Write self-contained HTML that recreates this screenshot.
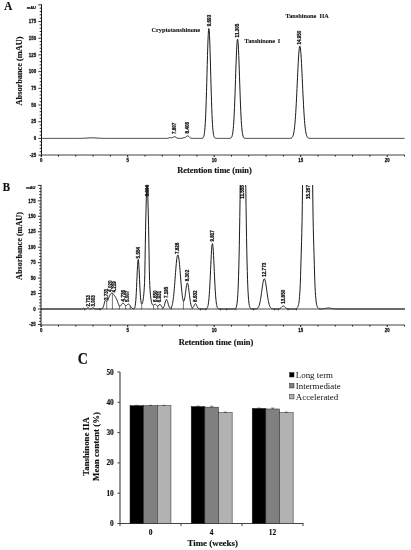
<!DOCTYPE html>
<html><head><meta charset="utf-8"><title>Figure</title>
<style>
html,body{margin:0;padding:0;background:#fff;}
svg{display:block;}
.sb{font-family:"Liberation Serif",serif;font-weight:bold;fill:#111;stroke:#111;stroke-width:0.15;}
.sbs{font-family:"Liberation Serif",serif;font-weight:bold;fill:#111;stroke:#111;stroke-width:0.08;}
.sr{font-family:"Liberation Serif",serif;fill:#111;}
.ab{font-family:"Liberation Sans",sans-serif;font-weight:bold;fill:#111;stroke:#111;stroke-width:0.25;}
</style></head><body>
<svg width="411" height="550" viewBox="0 0 411 550">
<rect width="411" height="550" fill="#fff"/>
<text class="sb" transform="translate(4.3,10.3) scale(1,1.2)" font-size="11.1">A</text>
<line x1="41.5" y1="4.40" x2="41.5" y2="156.8" stroke="#1a1a1a" stroke-width="1"/>
<path d="M38.40,155.10H41.5 M39.70,151.76H41.5 M39.70,148.42H41.5 M39.70,145.08H41.5 M39.70,141.74H41.5 M38.40,138.40H41.5 M39.70,135.06H41.5 M39.70,131.72H41.5 M39.70,128.38H41.5 M39.70,125.04H41.5 M38.40,121.70H41.5 M39.70,118.36H41.5 M39.70,115.02H41.5 M39.70,111.68H41.5 M39.70,108.34H41.5 M38.40,105.00H41.5 M39.70,101.66H41.5 M39.70,98.32H41.5 M39.70,94.98H41.5 M39.70,91.64H41.5 M38.40,88.30H41.5 M39.70,84.96H41.5 M39.70,81.62H41.5 M39.70,78.28H41.5 M39.70,74.94H41.5 M38.40,71.60H41.5 M39.70,68.26H41.5 M39.70,64.92H41.5 M39.70,61.58H41.5 M39.70,58.24H41.5 M38.40,54.90H41.5 M39.70,51.56H41.5 M39.70,48.22H41.5 M39.70,44.88H41.5 M39.70,41.54H41.5 M38.40,38.20H41.5 M39.70,34.86H41.5 M39.70,31.52H41.5 M39.70,28.18H41.5 M39.70,24.84H41.5 M38.40,21.50H41.5 M39.70,18.16H41.5 M39.70,14.82H41.5 M39.70,11.48H41.5 M39.70,8.14H41.5 M38.40,4.80H41.5 " stroke="#1a1a1a" stroke-width="0.9" fill="none"/>
<text class="ab" transform="translate(36.10,156.80) scale(0.96,1)" font-size="4.6" text-anchor="end">-25</text>
<text class="ab" transform="translate(36.10,140.10) scale(0.96,1)" font-size="4.6" text-anchor="end">0</text>
<text class="ab" transform="translate(36.10,123.40) scale(0.96,1)" font-size="4.6" text-anchor="end">25</text>
<text class="ab" transform="translate(36.10,106.70) scale(0.96,1)" font-size="4.6" text-anchor="end">50</text>
<text class="ab" transform="translate(36.10,90.00) scale(0.96,1)" font-size="4.6" text-anchor="end">75</text>
<text class="ab" transform="translate(36.10,73.30) scale(0.96,1)" font-size="4.6" text-anchor="end">100</text>
<text class="ab" transform="translate(36.10,56.60) scale(0.96,1)" font-size="4.6" text-anchor="end">125</text>
<text class="ab" transform="translate(36.10,39.90) scale(0.96,1)" font-size="4.6" text-anchor="end">150</text>
<text class="ab" transform="translate(36.10,23.20) scale(0.96,1)" font-size="4.6" text-anchor="end">175</text>
<text class="ab" transform="translate(35.90,9.00) scale(0.97,1)" font-size="4.1" text-anchor="end">mAU</text>
<line x1="41.5" y1="155.0" x2="404.5" y2="155.0" stroke="#444" stroke-width="1"/>
<path d="M41.20,155.0v2.0 M58.50,155.0v1.5 M75.80,155.0v1.5 M93.10,155.0v1.5 M110.40,155.0v1.5 M127.70,155.0v2.0 M145.00,155.0v1.5 M162.30,155.0v1.5 M179.60,155.0v1.5 M196.90,155.0v1.5 M214.20,155.0v2.0 M231.50,155.0v1.5 M248.80,155.0v1.5 M266.10,155.0v1.5 M283.40,155.0v1.5 M300.70,155.0v2.0 M318.00,155.0v1.5 M335.30,155.0v1.5 M352.60,155.0v1.5 M369.90,155.0v1.5 M387.20,155.0v2.0 M404.50,155.0v1.5 " stroke="#1a1a1a" stroke-width="1" fill="none"/>
<text class="ab" transform="translate(41.20,162.00) scale(0.95,1)" font-size="4.6" text-anchor="middle">0</text>
<text class="ab" transform="translate(127.70,162.00) scale(0.95,1)" font-size="4.6" text-anchor="middle">5</text>
<text class="ab" transform="translate(214.20,162.00) scale(0.95,1)" font-size="4.6" text-anchor="middle">10</text>
<text class="ab" transform="translate(300.70,162.00) scale(0.95,1)" font-size="4.6" text-anchor="middle">15</text>
<text class="ab" transform="translate(387.20,162.00) scale(0.95,1)" font-size="4.6" text-anchor="middle">20</text>
<text class="sb" font-size="8.3" text-anchor="middle" transform="translate(22.2,71) rotate(-90)">Absorbance (mAU)</text>
<text class="sb" font-size="8.4" text-anchor="middle" x="214.5" y="172.7">Retention time (min)</text>
<path d="M41.50,138.40 L41.75,138.40 L42.00,138.40 L42.25,138.40 L42.50,138.40 L42.75,138.40 L43.00,138.40 L43.25,138.40 L43.50,138.40 L43.75,138.40 L44.00,138.40 L44.25,138.40 L44.50,138.40 L44.75,138.40 L45.00,138.40 L45.25,138.40 L45.50,138.40 L45.75,138.40 L46.00,138.40 L46.25,138.40 L46.50,138.40 L46.75,138.40 L47.00,138.40 L47.25,138.40 L47.50,138.40 L47.75,138.40 L48.00,138.40 L48.25,138.40 L48.50,138.40 L48.75,138.40 L49.00,138.40 L49.25,138.40 L49.50,138.40 L49.75,138.40 L50.00,138.40 L50.25,138.40 L50.50,138.40 L50.75,138.40 L51.00,138.40 L51.25,138.40 L51.50,138.40 L51.75,138.40 L52.00,138.40 L52.25,138.40 L52.50,138.40 L52.75,138.40 L53.00,138.40 L53.25,138.40 L53.50,138.40 L53.75,138.40 L54.00,138.40 L54.25,138.40 L54.50,138.40 L54.75,138.40 L55.00,138.40 L55.25,138.40 L55.50,138.40 L55.75,138.40 L56.00,138.40 L56.25,138.40 L56.50,138.40 L56.75,138.40 L57.00,138.40 L57.25,138.40 L57.50,138.40 L57.75,138.40 L58.00,138.40 L58.25,138.40 L58.50,138.40 L58.75,138.40 L59.00,138.40 L59.25,138.40 L59.50,138.40 L59.75,138.40 L60.00,138.40 L60.25,138.40 L60.50,138.40 L60.75,138.40 L61.00,138.40 L61.25,138.40 L61.50,138.40 L61.75,138.40 L62.00,138.40 L62.25,138.40 L62.50,138.40 L62.75,138.40 L63.00,138.40 L63.25,138.40 L63.50,138.40 L63.75,138.40 L64.00,138.40 L64.25,138.40 L64.50,138.40 L64.75,138.40 L65.00,138.40 L65.25,138.40 L65.50,138.40 L65.75,138.40 L66.00,138.40 L66.25,138.40 L66.50,138.40 L66.75,138.40 L67.00,138.40 L67.25,138.40 L67.50,138.40 L67.75,138.40 L68.00,138.40 L68.25,138.40 L68.50,138.40 L68.75,138.40 L69.00,138.40 L69.25,138.40 L69.50,138.40 L69.75,138.40 L70.00,138.40 L70.25,138.40 L70.50,138.40 L70.75,138.40 L71.00,138.40 L71.25,138.40 L71.50,138.40 L71.75,138.40 L72.00,138.40 L72.25,138.40 L72.50,138.40 L72.75,138.40 L73.00,138.40 L73.25,138.40 L73.50,138.40 L73.75,138.40 L74.00,138.40 L74.25,138.40 L74.50,138.40 L74.75,138.40 L75.00,138.40 L75.25,138.40 L75.50,138.40 L75.75,138.40 L76.00,138.40 L76.25,138.40 L76.50,138.40 L76.75,138.39 L77.00,138.39 L77.25,138.39 L77.50,138.39 L77.75,138.39 L78.00,138.39 L78.25,138.39 L78.50,138.38 L78.75,138.38 L79.00,138.38 L79.25,138.38 L79.50,138.37 L79.75,138.37 L80.00,138.37 L80.25,138.36 L80.50,138.36 L80.75,138.35 L81.00,138.35 L81.25,138.34 L81.50,138.33 L81.75,138.33 L82.00,138.32 L82.25,138.31 L82.50,138.30 L82.75,138.29 L83.00,138.28 L83.25,138.27 L83.50,138.26 L83.75,138.25 L84.00,138.23 L84.25,138.22 L84.50,138.21 L84.75,138.19 L85.00,138.17 L85.25,138.16 L85.50,138.14 L85.75,138.13 L86.00,138.11 L86.25,138.09 L86.50,138.07 L86.75,138.05 L87.00,138.04 L87.25,138.02 L87.50,138.00 L87.75,137.98 L88.00,137.96 L88.25,137.95 L88.50,137.93 L88.75,137.91 L89.00,137.90 L89.25,137.88 L89.50,137.87 L89.75,137.86 L90.00,137.85 L90.25,137.84 L90.50,137.83 L90.75,137.82 L91.00,137.81 L91.25,137.81 L91.50,137.80 L91.75,137.80 L92.00,137.80 L92.25,137.80 L92.50,137.80 L92.75,137.81 L93.00,137.81 L93.25,137.82 L93.50,137.83 L93.75,137.84 L94.00,137.85 L94.25,137.86 L94.50,137.87 L94.75,137.88 L95.00,137.90 L95.25,137.91 L95.50,137.93 L95.75,137.95 L96.00,137.96 L96.25,137.98 L96.50,138.00 L96.75,138.02 L97.00,138.04 L97.25,138.05 L97.50,138.07 L97.75,138.09 L98.00,138.11 L98.25,138.13 L98.50,138.14 L98.75,138.16 L99.00,138.17 L99.25,138.19 L99.50,138.21 L99.75,138.22 L100.00,138.23 L100.25,138.25 L100.50,138.26 L100.75,138.27 L101.00,138.28 L101.25,138.29 L101.50,138.30 L101.75,138.31 L102.00,138.32 L102.25,138.33 L102.50,138.33 L102.75,138.34 L103.00,138.35 L103.25,138.35 L103.50,138.36 L103.75,138.36 L104.00,138.37 L104.25,138.37 L104.50,138.37 L104.75,138.38 L105.00,138.38 L105.25,138.38 L105.50,138.38 L105.75,138.39 L106.00,138.39 L106.25,138.39 L106.50,138.39 L106.75,138.39 L107.00,138.39 L107.25,138.39 L107.50,138.40 L107.75,138.40 L108.00,138.40 L108.25,138.40 L108.50,138.40 L108.75,138.40 L109.00,138.40 L109.25,138.40 L109.50,138.40 L109.75,138.40 L110.00,138.40 L110.25,138.40 L110.50,138.40 L110.75,138.40 L111.00,138.40 L111.25,138.40 L111.50,138.40 L111.75,138.40 L112.00,138.40 L112.25,138.40 L112.50,138.40 L112.75,138.40 L113.00,138.40 L113.25,138.40 L113.50,138.40 L113.75,138.40 L114.00,138.40 L114.25,138.40 L114.50,138.40 L114.75,138.40 L115.00,138.40 L115.25,138.40 L115.50,138.40 L115.75,138.40 L116.00,138.40 L116.25,138.40 L116.50,138.40 L116.75,138.40 L117.00,138.40 L117.25,138.40 L117.50,138.40 L117.75,138.40 L118.00,138.40 L118.25,138.40 L118.50,138.40 L118.75,138.40 L119.00,138.40 L119.25,138.40 L119.50,138.40 L119.75,138.40 L120.00,138.40 L120.25,138.40 L120.50,138.40 L120.75,138.40 L121.00,138.40 L121.25,138.40 L121.50,138.40 L121.75,138.40 L122.00,138.40 L122.25,138.40 L122.50,138.40 L122.75,138.40 L123.00,138.40 L123.25,138.40 L123.50,138.40 L123.75,138.40 L124.00,138.40 L124.25,138.40 L124.50,138.40 L124.75,138.40 L125.00,138.40 L125.25,138.40 L125.50,138.40 L125.75,138.40 L126.00,138.40 L126.25,138.40 L126.50,138.40 L126.75,138.40 L127.00,138.40 L127.25,138.40 L127.50,138.40 L127.75,138.40 L128.00,138.40 L128.25,138.40 L128.50,138.40 L128.75,138.40 L129.00,138.40 L129.25,138.40 L129.50,138.40 L129.75,138.40 L130.00,138.40 L130.25,138.40 L130.50,138.40 L130.75,138.40 L131.00,138.40 L131.25,138.40 L131.50,138.40 L131.75,138.40 L132.00,138.40 L132.25,138.40 L132.50,138.40 L132.75,138.40 L133.00,138.40 L133.25,138.40 L133.50,138.40 L133.75,138.40 L134.00,138.40 L134.25,138.40 L134.50,138.40 L134.75,138.40 L135.00,138.40 L135.25,138.40 L135.50,138.40 L135.75,138.40 L136.00,138.40 L136.25,138.40 L136.50,138.40 L136.75,138.40 L137.00,138.40 L137.25,138.40 L137.50,138.40 L137.75,138.40 L138.00,138.40 L138.25,138.40 L138.50,138.40 L138.75,138.40 L139.00,138.40 L139.25,138.40 L139.50,138.40 L139.75,138.40 L140.00,138.40 L140.25,138.40 L140.50,138.40 L140.75,138.40 L141.00,138.40 L141.25,138.40 L141.50,138.40 L141.75,138.40 L142.00,138.40 L142.25,138.40 L142.50,138.40 L142.75,138.40 L143.00,138.40 L143.25,138.40 L143.50,138.40 L143.75,138.40 L144.00,138.40 L144.25,138.40 L144.50,138.40 L144.75,138.40 L145.00,138.40 L145.25,138.40 L145.50,138.40 L145.75,138.40 L146.00,138.40 L146.25,138.40 L146.50,138.40 L146.75,138.40 L147.00,138.40 L147.25,138.40 L147.50,138.40 L147.75,138.40 L148.00,138.40 L148.25,138.40 L148.50,138.40 L148.75,138.40 L149.00,138.40 L149.25,138.40 L149.50,138.40 L149.75,138.40 L150.00,138.40 L150.25,138.40 L150.50,138.40 L150.75,138.40 L151.00,138.40 L151.25,138.40 L151.50,138.40 L151.75,138.40 L152.00,138.40 L152.25,138.40 L152.50,138.40 L152.75,138.40 L153.00,138.40 L153.25,138.40 L153.50,138.40 L153.75,138.40 L154.00,138.40 L154.25,138.40 L154.50,138.40 L154.75,138.40 L155.00,138.40 L155.25,138.40 L155.50,138.40 L155.75,138.40 L156.00,138.40 L156.25,138.40 L156.50,138.40 L156.75,138.40 L157.00,138.40 L157.25,138.40 L157.50,138.40 L157.75,138.40 L158.00,138.40 L158.25,138.40 L158.50,138.40 L158.75,138.40 L159.00,138.40 L159.25,138.40 L159.50,138.40 L159.75,138.40 L160.00,138.40 L160.25,138.40 L160.50,138.40 L160.75,138.40 L161.00,138.40 L161.25,138.40 L161.50,138.40 L161.75,138.40 L162.00,138.40 L162.25,138.40 L162.50,138.40 L162.75,138.40 L163.00,138.40 L163.25,138.40 L163.50,138.40 L163.75,138.40 L164.00,138.40 L164.25,138.40 L164.50,138.40 L164.75,138.40 L165.00,138.40 L165.25,138.40 L165.50,138.40 L165.75,138.40 L166.00,138.40 L166.25,138.39 L166.50,138.39 L166.75,138.38 L167.00,138.36 L167.25,138.34 L167.50,138.31 L167.75,138.26 L168.00,138.20 L168.25,138.12 L168.50,138.03 L168.75,137.93 L169.00,137.83 L169.25,137.74 L169.50,137.66 L169.75,137.61 L170.00,137.58 L170.25,137.59 L170.50,137.62 L170.75,137.67 L171.00,137.72 L171.25,137.77 L171.50,137.80 L171.75,137.81 L172.00,137.78 L172.25,137.71 L172.50,137.61 L172.75,137.48 L173.00,137.33 L173.25,137.18 L173.50,137.03 L173.75,136.89 L174.00,136.79 L174.25,136.72 L174.50,136.70 L174.75,136.72 L175.00,136.79 L175.25,136.90 L175.50,137.04 L175.75,137.20 L176.00,137.37 L176.25,137.54 L176.50,137.70 L176.75,137.85 L177.00,137.98 L177.25,138.08 L177.50,138.17 L177.75,138.24 L178.00,138.29 L178.25,138.33 L178.50,138.35 L178.75,138.37 L179.00,138.38 L179.25,138.39 L179.50,138.39 L179.75,138.40 L180.00,138.40 L180.25,138.39 L180.50,138.39 L180.75,138.38 L181.00,138.37 L181.25,138.36 L181.50,138.33 L181.75,138.30 L182.00,138.25 L182.25,138.19 L182.50,138.12 L182.75,138.04 L183.00,137.96 L183.25,137.88 L183.50,137.80 L183.75,137.73 L184.00,137.68 L184.25,137.64 L184.50,137.59 L184.75,137.54 L185.00,137.48 L185.25,137.39 L185.50,137.27 L185.75,137.12 L186.00,136.94 L186.25,136.73 L186.50,136.52 L186.75,136.31 L187.00,136.13 L187.25,135.99 L187.50,135.91 L187.75,135.90 L188.00,135.95 L188.25,136.06 L188.50,136.23 L188.75,136.44 L189.00,136.68 L189.25,136.93 L189.50,137.18 L189.75,137.42 L190.00,137.63 L190.25,137.81 L190.50,137.96 L190.75,138.08 L191.00,138.18 L191.25,138.25 L191.50,138.30 L191.75,138.33 L192.00,138.36 L192.25,138.37 L192.50,138.39 L192.75,138.39 L193.00,138.40 L193.25,138.40 L193.50,138.40 L193.75,138.40 L194.00,138.40 L194.25,138.40 L194.50,138.40 L194.75,138.40 L195.00,138.40 L195.25,138.40 L195.50,138.40 L195.75,138.40 L196.00,138.40 L196.25,138.40 L196.50,138.40 L196.75,138.40 L197.00,138.40 L197.25,138.40 L197.50,138.40 L197.75,138.40 L198.00,138.40 L198.25,138.40 L198.50,138.40 L198.75,138.40 L199.00,138.40 L199.25,138.40 L199.50,138.40 L199.75,138.40 L200.00,138.40 L200.25,138.40 L200.50,138.40 L200.75,138.40 L201.00,138.39 L201.25,138.39 L201.50,138.37 L201.75,138.35 L202.00,138.32 L202.25,138.27 L202.50,138.18 L202.75,138.05 L203.00,137.84 L203.25,137.53 L203.50,137.07 L203.75,136.41 L204.00,135.48 L204.25,134.20 L204.50,132.47 L204.75,130.18 L205.00,127.23 L205.25,123.51 L205.50,118.94 L205.75,113.44 L206.00,106.99 L206.25,99.64 L206.50,91.49 L206.75,82.70 L207.00,73.53 L207.25,64.30 L207.50,55.37 L207.75,47.14 L208.00,40.01 L208.25,34.34 L208.50,30.46 L208.75,28.57 L209.00,28.78 L209.25,31.08 L209.50,35.34 L209.75,41.33 L210.00,48.71 L210.25,57.11 L210.50,66.13 L210.75,75.38 L211.00,84.50 L211.25,93.18 L211.50,101.18 L211.75,108.36 L212.00,114.61 L212.25,119.92 L212.50,124.32 L212.75,127.88 L213.00,130.69 L213.25,132.86 L213.50,134.49 L213.75,135.69 L214.00,136.56 L214.25,137.18 L214.50,137.60 L214.75,137.89 L215.00,138.08 L215.25,138.20 L215.50,138.28 L215.75,138.33 L216.00,138.36 L216.25,138.38 L216.50,138.39 L216.75,138.39 L217.00,138.40 L217.25,138.40 L217.50,138.40 L217.75,138.40 L218.00,138.40 L218.25,138.40 L218.50,138.40 L218.75,138.40 L219.00,138.40 L219.25,138.40 L219.50,138.40 L219.75,138.40 L220.00,138.40 L220.25,138.40 L220.50,138.40 L220.75,138.40 L221.00,138.40 L221.25,138.40 L221.50,138.40 L221.75,138.40 L222.00,138.40 L222.25,138.40 L222.50,138.40 L222.75,138.40 L223.00,138.40 L223.25,138.40 L223.50,138.40 L223.75,138.40 L224.00,138.40 L224.25,138.40 L224.50,138.40 L224.75,138.40 L225.00,138.40 L225.25,138.40 L225.50,138.40 L225.75,138.40 L226.00,138.40 L226.25,138.40 L226.50,138.40 L226.75,138.40 L227.00,138.40 L227.25,138.40 L227.50,138.40 L227.75,138.40 L228.00,138.40 L228.25,138.40 L228.50,138.40 L228.75,138.39 L229.00,138.39 L229.25,138.38 L229.50,138.37 L229.75,138.35 L230.00,138.32 L230.25,138.27 L230.50,138.20 L230.75,138.09 L231.00,137.93 L231.25,137.70 L231.50,137.38 L231.75,136.92 L232.00,136.29 L232.25,135.43 L232.50,134.30 L232.75,132.83 L233.00,130.93 L233.25,128.56 L233.50,125.62 L233.75,122.07 L234.00,117.85 L234.25,112.95 L234.50,107.36 L234.75,101.13 L235.00,94.35 L235.25,87.14 L235.50,79.68 L235.75,72.17 L236.00,64.86 L236.25,58.01 L236.50,51.88 L236.75,46.73 L237.00,42.78 L237.25,40.21 L237.50,39.13 L237.75,39.60 L238.00,41.58 L238.25,45.00 L238.50,49.69 L238.75,55.46 L239.00,62.05 L239.25,69.21 L239.50,76.67 L239.75,84.17 L240.00,91.51 L240.25,98.48 L240.50,104.94 L240.75,110.79 L241.00,115.97 L241.25,120.46 L241.50,124.28 L241.75,127.45 L242.00,130.05 L242.25,132.12 L242.50,133.76 L242.75,135.02 L243.00,135.98 L243.25,136.69 L243.50,137.21 L243.75,137.59 L244.00,137.85 L244.25,138.04 L244.50,138.16 L244.75,138.25 L245.00,138.30 L245.25,138.34 L245.50,138.36 L245.75,138.38 L246.00,138.39 L246.25,138.39 L246.50,138.40 L246.75,138.40 L247.00,138.40 L247.25,138.40 L247.50,138.40 L247.75,138.40 L248.00,138.40 L248.25,138.40 L248.50,138.40 L248.75,138.40 L249.00,138.40 L249.25,138.40 L249.50,138.40 L249.75,138.40 L250.00,138.40 L250.25,138.40 L250.50,138.40 L250.75,138.40 L251.00,138.40 L251.25,138.40 L251.50,138.40 L251.75,138.40 L252.00,138.40 L252.25,138.40 L252.50,138.40 L252.75,138.40 L253.00,138.40 L253.25,138.40 L253.50,138.40 L253.75,138.40 L254.00,138.40 L254.25,138.40 L254.50,138.40 L254.75,138.40 L255.00,138.40 L255.25,138.40 L255.50,138.40 L255.75,138.40 L256.00,138.40 L256.25,138.40 L256.50,138.40 L256.75,138.40 L257.00,138.40 L257.25,138.40 L257.50,138.40 L257.75,138.40 L258.00,138.40 L258.25,138.40 L258.50,138.40 L258.75,138.40 L259.00,138.40 L259.25,138.40 L259.50,138.40 L259.75,138.40 L260.00,138.40 L260.25,138.40 L260.50,138.40 L260.75,138.40 L261.00,138.40 L261.25,138.40 L261.50,138.40 L261.75,138.40 L262.00,138.40 L262.25,138.40 L262.50,138.40 L262.75,138.40 L263.00,138.40 L263.25,138.40 L263.50,138.40 L263.75,138.40 L264.00,138.40 L264.25,138.40 L264.50,138.40 L264.75,138.40 L265.00,138.40 L265.25,138.40 L265.50,138.40 L265.75,138.40 L266.00,138.40 L266.25,138.40 L266.50,138.40 L266.75,138.40 L267.00,138.40 L267.25,138.40 L267.50,138.40 L267.75,138.40 L268.00,138.40 L268.25,138.40 L268.50,138.40 L268.75,138.40 L269.00,138.40 L269.25,138.40 L269.50,138.40 L269.75,138.40 L270.00,138.40 L270.25,138.40 L270.50,138.40 L270.75,138.40 L271.00,138.40 L271.25,138.40 L271.50,138.40 L271.75,138.40 L272.00,138.40 L272.25,138.40 L272.50,138.40 L272.75,138.40 L273.00,138.40 L273.25,138.40 L273.50,138.40 L273.75,138.40 L274.00,138.40 L274.25,138.40 L274.50,138.40 L274.75,138.40 L275.00,138.40 L275.25,138.40 L275.50,138.40 L275.75,138.40 L276.00,138.40 L276.25,138.40 L276.50,138.40 L276.75,138.40 L277.00,138.40 L277.25,138.40 L277.50,138.40 L277.75,138.40 L278.00,138.40 L278.25,138.40 L278.50,138.40 L278.75,138.40 L279.00,138.40 L279.25,138.40 L279.50,138.40 L279.75,138.40 L280.00,138.40 L280.25,138.40 L280.50,138.40 L280.75,138.40 L281.00,138.40 L281.25,138.40 L281.50,138.40 L281.75,138.40 L282.00,138.40 L282.25,138.40 L282.50,138.40 L282.75,138.40 L283.00,138.40 L283.25,138.40 L283.50,138.40 L283.75,138.40 L284.00,138.40 L284.25,138.40 L284.50,138.40 L284.75,138.40 L285.00,138.40 L285.25,138.40 L285.50,138.40 L285.75,138.40 L286.00,138.40 L286.25,138.40 L286.50,138.40 L286.75,138.40 L287.00,138.40 L287.25,138.40 L287.50,138.40 L287.75,138.40 L288.00,138.40 L288.25,138.40 L288.50,138.39 L288.75,138.39 L289.00,138.39 L289.25,138.38 L289.50,138.37 L289.75,138.36 L290.00,138.34 L290.25,138.31 L290.50,138.28 L290.75,138.23 L291.00,138.15 L291.25,138.06 L291.50,137.93 L291.75,137.76 L292.00,137.53 L292.25,137.24 L292.50,136.85 L292.75,136.37 L293.00,135.75 L293.25,134.99 L293.50,134.04 L293.75,132.88 L294.00,131.48 L294.25,129.81 L294.50,127.83 L294.75,125.52 L295.00,122.85 L295.25,119.80 L295.50,116.37 L295.75,112.54 L296.00,108.35 L296.25,103.80 L296.50,98.93 L296.75,93.81 L297.00,88.49 L297.25,83.07 L297.50,77.64 L297.75,72.30 L298.00,67.17 L298.25,62.36 L298.50,57.99 L298.75,54.18 L299.00,51.01 L299.25,48.58 L299.50,46.95 L299.75,46.17 L300.00,46.26 L300.25,47.21 L300.50,49.01 L300.75,51.59 L301.00,54.89 L301.25,58.83 L301.50,63.29 L301.75,68.17 L302.00,73.35 L302.25,78.72 L302.50,84.16 L302.75,89.57 L303.00,94.85 L303.25,99.93 L303.50,104.73 L303.75,109.22 L304.00,113.34 L304.25,117.08 L304.50,120.44 L304.75,123.41 L305.00,126.01 L305.25,128.25 L305.50,130.16 L305.75,131.78 L306.00,133.13 L306.25,134.24 L306.50,135.15 L306.75,135.89 L307.00,136.47 L307.25,136.94 L307.50,137.30 L307.75,137.58 L308.00,137.80 L308.25,137.96 L308.50,138.08 L308.75,138.17 L309.00,138.24 L309.25,138.29 L309.50,138.32 L309.75,138.34 L310.00,138.36 L310.25,138.37 L310.50,138.38 L310.75,138.39 L311.00,138.39 L311.25,138.40 L311.50,138.40 L311.75,138.40 L312.00,138.40 L312.25,138.40 L312.50,138.40 L312.75,138.40 L313.00,138.40 L313.25,138.40 L313.50,138.40 L313.75,138.40 L314.00,138.40 L314.25,138.40 L314.50,138.40 L314.75,138.40 L315.00,138.40 L315.25,138.40 L315.50,138.40 L315.75,138.40 L316.00,138.40 L316.25,138.40 L316.50,138.40 L316.75,138.40 L317.00,138.40 L317.25,138.40 L317.50,138.40 L317.75,138.40 L318.00,138.40 L318.25,138.40 L318.50,138.40 L318.75,138.40 L319.00,138.40 L319.25,138.40 L319.50,138.40 L319.75,138.40 L320.00,138.40 L320.25,138.40 L320.50,138.40 L320.75,138.40 L321.00,138.40 L321.25,138.40 L321.50,138.40 L321.75,138.40 L322.00,138.40 L322.25,138.40 L322.50,138.40 L322.75,138.40 L323.00,138.40 L323.25,138.40 L323.50,138.40 L323.75,138.40 L324.00,138.40 L324.25,138.40 L324.50,138.40 L324.75,138.40 L325.00,138.40 L325.25,138.40 L325.50,138.40 L325.75,138.40 L326.00,138.40 L326.25,138.40 L326.50,138.40 L326.75,138.40 L327.00,138.40 L327.25,138.40 L327.50,138.40 L327.75,138.40 L328.00,138.40 L328.25,138.40 L328.50,138.40 L328.75,138.40 L329.00,138.40 L329.25,138.40 L329.50,138.40 L329.75,138.40 L330.00,138.40 L330.25,138.40 L330.50,138.40 L330.75,138.40 L331.00,138.40 L331.25,138.40 L331.50,138.40 L331.75,138.40 L332.00,138.40 L332.25,138.40 L332.50,138.40 L332.75,138.40 L333.00,138.40 L333.25,138.40 L333.50,138.40 L333.75,138.40 L334.00,138.40 L334.25,138.40 L334.50,138.40 L334.75,138.40 L335.00,138.40 L335.25,138.40 L335.50,138.40 L335.75,138.40 L336.00,138.40 L336.25,138.40 L336.50,138.40 L336.75,138.40 L337.00,138.40 L337.25,138.40 L337.50,138.40 L337.75,138.40 L338.00,138.40 L338.25,138.40 L338.50,138.40 L338.75,138.40 L339.00,138.40 L339.25,138.40 L339.50,138.40 L339.75,138.40 L340.00,138.40 L340.25,138.40 L340.50,138.40 L340.75,138.40 L341.00,138.40 L341.25,138.40 L341.50,138.40 L341.75,138.40 L342.00,138.40 L342.25,138.40 L342.50,138.40 L342.75,138.40 L343.00,138.40 L343.25,138.40 L343.50,138.40 L343.75,138.40 L344.00,138.40 L344.25,138.40 L344.50,138.40 L344.75,138.40 L345.00,138.40 L345.25,138.40 L345.50,138.40 L345.75,138.40 L346.00,138.40 L346.25,138.40 L346.50,138.40 L346.75,138.40 L347.00,138.40 L347.25,138.40 L347.50,138.40 L347.75,138.40 L348.00,138.40 L348.25,138.40 L348.50,138.40 L348.75,138.40 L349.00,138.40 L349.25,138.40 L349.50,138.40 L349.75,138.40 L350.00,138.40 L350.25,138.40 L350.50,138.40 L350.75,138.40 L351.00,138.40 L351.25,138.40 L351.50,138.40 L351.75,138.40 L352.00,138.40 L352.25,138.40 L352.50,138.40 L352.75,138.40 L353.00,138.40 L353.25,138.40 L353.50,138.40 L353.75,138.40 L354.00,138.40 L354.25,138.40 L354.50,138.40 L354.75,138.40 L355.00,138.40 L355.25,138.40 L355.50,138.40 L355.75,138.40 L356.00,138.40 L356.25,138.40 L356.50,138.40 L356.75,138.40 L357.00,138.40 L357.25,138.40 L357.50,138.40 L357.75,138.40 L358.00,138.40 L358.25,138.40 L358.50,138.40 L358.75,138.40 L359.00,138.40 L359.25,138.40 L359.50,138.40 L359.75,138.40 L360.00,138.40 L360.25,138.40 L360.50,138.40 L360.75,138.40 L361.00,138.40 L361.25,138.40 L361.50,138.40 L361.75,138.40 L362.00,138.40 L362.25,138.40 L362.50,138.40 L362.75,138.40 L363.00,138.40 L363.25,138.40 L363.50,138.40 L363.75,138.40 L364.00,138.40 L364.25,138.40 L364.50,138.40 L364.75,138.40 L365.00,138.40 L365.25,138.40 L365.50,138.40 L365.75,138.40 L366.00,138.40 L366.25,138.40 L366.50,138.40 L366.75,138.40 L367.00,138.40 L367.25,138.40 L367.50,138.40 L367.75,138.40 L368.00,138.40 L368.25,138.40 L368.50,138.40 L368.75,138.40 L369.00,138.40 L369.25,138.40 L369.50,138.40 L369.75,138.40 L370.00,138.40 L370.25,138.40 L370.50,138.40 L370.75,138.40 L371.00,138.40 L371.25,138.40 L371.50,138.40 L371.75,138.40 L372.00,138.40 L372.25,138.40 L372.50,138.40 L372.75,138.40 L373.00,138.40 L373.25,138.40 L373.50,138.40 L373.75,138.40 L374.00,138.40 L374.25,138.40 L374.50,138.40 L374.75,138.40 L375.00,138.40 L375.25,138.40 L375.50,138.40 L375.75,138.40 L376.00,138.40 L376.25,138.40 L376.50,138.40 L376.75,138.40 L377.00,138.40 L377.25,138.40 L377.50,138.40 L377.75,138.40 L378.00,138.40 L378.25,138.40 L378.50,138.40 L378.75,138.40 L379.00,138.40 L379.25,138.40 L379.50,138.40 L379.75,138.40 L380.00,138.40 L380.25,138.40 L380.50,138.40 L380.75,138.40 L381.00,138.40 L381.25,138.40 L381.50,138.40 L381.75,138.40 L382.00,138.40 L382.25,138.40 L382.50,138.40 L382.75,138.40 L383.00,138.40 L383.25,138.40 L383.50,138.40 L383.75,138.40 L384.00,138.40 L384.25,138.40 L384.50,138.40 L384.75,138.40 L385.00,138.40 L385.25,138.40 L385.50,138.40 L385.75,138.40 L386.00,138.40 L386.25,138.40 L386.50,138.40 L386.75,138.40 L387.00,138.40 L387.25,138.40 L387.50,138.40 L387.75,138.40 L388.00,138.40 L388.25,138.40 L388.50,138.40 L388.75,138.40 L389.00,138.40 L389.25,138.40 L389.50,138.40 L389.75,138.40 L390.00,138.40 L390.25,138.40 L390.50,138.40 L390.75,138.40 L391.00,138.40 L391.25,138.40 L391.50,138.40 L391.75,138.40 L392.00,138.40 L392.25,138.40 L392.50,138.40 L392.75,138.40 L393.00,138.40 L393.25,138.40 L393.50,138.40 L393.75,138.40 L394.00,138.40 L394.25,138.40 L394.50,138.40 L394.75,138.40 L395.00,138.40 L395.25,138.40 L395.50,138.40 L395.75,138.40 L396.00,138.40 L396.25,138.40 L396.50,138.40 L396.75,138.40 L397.00,138.40 L397.25,138.40 L397.50,138.40 L397.75,138.40 L398.00,138.40 L398.25,138.40 L398.50,138.40 L398.75,138.40 L399.00,138.40 L399.25,138.40 L399.50,138.40 L399.75,138.40 L400.00,138.40 L400.25,138.40 L400.50,138.40 L400.75,138.40 L401.00,138.40 L401.25,138.40 L401.50,138.40 L401.75,138.40 L402.00,138.40 L402.25,138.40 L402.50,138.40 L402.75,138.40 L403.00,138.40 L403.25,138.40 L403.50,138.40 L403.75,138.40 L404.00,138.40 L404.25,138.40 L404.50,138.40 " fill="none" stroke="#1a1a1a" stroke-width="1"/>
<text class="ab" font-size="4.55" transform="translate(210.82,26.2) rotate(-90) scale(1.0,1)">9.693</text>
<text class="ab" font-size="4.55" transform="translate(239.32,37.4) rotate(-90) scale(1.0,1)">11.305</text>
<text class="ab" font-size="4.55" transform="translate(301.42,44.6) rotate(-90) scale(1.0,1)">14.950</text>
<text class="ab" font-size="4.55" transform="translate(175.92,134.1) rotate(-90) scale(1.0,1)">7.807</text>
<text class="ab" font-size="4.55" transform="translate(189.32,133.4) rotate(-90) scale(1.0,1)">8.406</text>
<text class="sbs" font-size="6.3" x="151.5" y="31.9">Cryptotanshinone</text>
<text class="sbs" font-size="6.2" x="244.6" y="42.8" word-spacing="1.2">Tanshinone I</text>
<text class="sbs" font-size="6.25" x="285.6" y="18.3" word-spacing="1.6">Tanshinone IIA</text>
<text class="sb" transform="translate(2.7,191) scale(1,1.24)" font-size="10.9">B</text>
<line x1="41.0" y1="185.00" x2="41.0" y2="326.8" stroke="#1a1a1a" stroke-width="1"/>
<path d="M37.90,324.45H41.0 M39.20,321.36H41.0 M39.20,318.27H41.0 M39.20,315.18H41.0 M39.20,312.09H41.0 M37.90,309.00H41.0 M39.20,305.91H41.0 M39.20,302.82H41.0 M39.20,299.73H41.0 M39.20,296.64H41.0 M37.90,293.55H41.0 M39.20,290.46H41.0 M39.20,287.37H41.0 M39.20,284.28H41.0 M39.20,281.19H41.0 M37.90,278.10H41.0 M39.20,275.01H41.0 M39.20,271.92H41.0 M39.20,268.83H41.0 M39.20,265.74H41.0 M37.90,262.65H41.0 M39.20,259.56H41.0 M39.20,256.47H41.0 M39.20,253.38H41.0 M39.20,250.29H41.0 M37.90,247.20H41.0 M39.20,244.11H41.0 M39.20,241.02H41.0 M39.20,237.93H41.0 M39.20,234.84H41.0 M37.90,231.75H41.0 M39.20,228.66H41.0 M39.20,225.57H41.0 M39.20,222.48H41.0 M39.20,219.39H41.0 M37.90,216.30H41.0 M39.20,213.21H41.0 M39.20,210.12H41.0 M39.20,207.03H41.0 M39.20,203.94H41.0 M37.90,200.85H41.0 M39.20,197.76H41.0 M39.20,194.67H41.0 M39.20,191.58H41.0 M39.20,188.49H41.0 M37.90,185.40H41.0 " stroke="#1a1a1a" stroke-width="0.9" fill="none"/>
<text class="ab" transform="translate(35.60,326.15) scale(0.96,1)" font-size="4.6" text-anchor="end">-25</text>
<text class="ab" transform="translate(35.60,310.70) scale(0.96,1)" font-size="4.6" text-anchor="end">0</text>
<text class="ab" transform="translate(35.60,295.25) scale(0.96,1)" font-size="4.6" text-anchor="end">25</text>
<text class="ab" transform="translate(35.60,279.80) scale(0.96,1)" font-size="4.6" text-anchor="end">50</text>
<text class="ab" transform="translate(35.60,264.35) scale(0.96,1)" font-size="4.6" text-anchor="end">75</text>
<text class="ab" transform="translate(35.60,248.90) scale(0.96,1)" font-size="4.6" text-anchor="end">100</text>
<text class="ab" transform="translate(35.60,233.45) scale(0.96,1)" font-size="4.6" text-anchor="end">125</text>
<text class="ab" transform="translate(35.60,218.00) scale(0.96,1)" font-size="4.6" text-anchor="end">150</text>
<text class="ab" transform="translate(35.60,202.55) scale(0.96,1)" font-size="4.6" text-anchor="end">175</text>
<text class="ab" transform="translate(35.40,189.30) scale(0.97,1)" font-size="4.1" text-anchor="end">mAU</text>
<line x1="41.0" y1="325.0" x2="404.5" y2="325.0" stroke="#444" stroke-width="1"/>
<path d="M41.20,325.0v2.0 M58.50,325.0v1.5 M75.80,325.0v1.5 M93.10,325.0v1.5 M110.40,325.0v1.5 M127.70,325.0v2.0 M145.00,325.0v1.5 M162.30,325.0v1.5 M179.60,325.0v1.5 M196.90,325.0v1.5 M214.20,325.0v2.0 M231.50,325.0v1.5 M248.80,325.0v1.5 M266.10,325.0v1.5 M283.40,325.0v1.5 M300.70,325.0v2.0 M318.00,325.0v1.5 M335.30,325.0v1.5 M352.60,325.0v1.5 M369.90,325.0v1.5 M387.20,325.0v2.0 M404.50,325.0v1.5 " stroke="#1a1a1a" stroke-width="1" fill="none"/>
<text class="ab" transform="translate(41.20,332.00) scale(0.95,1)" font-size="4.6" text-anchor="middle">0</text>
<text class="ab" transform="translate(127.70,332.00) scale(0.95,1)" font-size="4.6" text-anchor="middle">5</text>
<text class="ab" transform="translate(214.20,332.00) scale(0.95,1)" font-size="4.6" text-anchor="middle">10</text>
<text class="ab" transform="translate(300.70,332.00) scale(0.95,1)" font-size="4.6" text-anchor="middle">15</text>
<text class="ab" transform="translate(387.20,332.00) scale(0.95,1)" font-size="4.6" text-anchor="middle">20</text>
<text class="sb" font-size="8.2" text-anchor="middle" transform="translate(22.2,246) rotate(-90)">Absorbance (mAU)</text>
<text class="sb" font-size="8.4" text-anchor="middle" x="216" y="344.8">Retention time (min)</text>
<clipPath id="cb"><rect x="40" y="185" width="370" height="130"/></clipPath>
<path d="M40.80,309.00 L41.05,309.00 L41.30,309.00 L41.55,309.00 L41.80,309.00 L42.05,309.00 L42.30,309.00 L42.55,309.00 L42.80,309.00 L43.05,309.00 L43.30,309.00 L43.55,309.00 L43.80,309.00 L44.05,309.00 L44.30,309.00 L44.55,309.00 L44.80,309.00 L45.05,309.00 L45.30,309.00 L45.55,309.00 L45.80,309.00 L46.05,309.00 L46.30,309.00 L46.55,309.00 L46.80,309.00 L47.05,309.00 L47.30,309.00 L47.55,309.00 L47.80,309.00 L48.05,309.00 L48.30,309.00 L48.55,309.00 L48.80,309.00 L49.05,309.00 L49.30,309.00 L49.55,309.00 L49.80,309.00 L50.05,309.00 L50.30,309.00 L50.55,309.00 L50.80,309.00 L51.05,309.00 L51.30,309.00 L51.55,309.00 L51.80,309.00 L52.05,309.00 L52.30,309.00 L52.55,309.00 L52.80,309.00 L53.05,309.00 L53.30,309.00 L53.55,309.00 L53.80,309.00 L54.05,309.00 L54.30,309.00 L54.55,309.00 L54.80,309.00 L55.05,309.00 L55.30,309.00 L55.55,309.00 L55.80,309.00 L56.05,309.00 L56.30,309.00 L56.55,309.00 L56.80,309.00 L57.05,309.00 L57.30,309.00 L57.55,309.00 L57.80,309.00 L58.05,309.00 L58.30,309.00 L58.55,309.00 L58.80,309.00 L59.05,309.00 L59.30,309.00 L59.55,309.00 L59.80,309.00 L60.05,309.00 L60.30,309.00 L60.55,309.00 L60.80,309.00 L61.05,309.00 L61.30,309.00 L61.55,309.00 L61.80,309.00 L62.05,309.00 L62.30,309.00 L62.55,309.00 L62.80,309.00 L63.05,309.00 L63.30,309.00 L63.55,309.00 L63.80,309.00 L64.05,309.00 L64.30,309.00 L64.55,309.00 L64.80,309.00 L65.05,309.00 L65.30,309.00 L65.55,309.00 L65.80,309.00 L66.05,309.00 L66.30,309.00 L66.55,309.00 L66.80,309.00 L67.05,309.00 L67.30,309.00 L67.55,309.00 L67.80,309.00 L68.05,309.00 L68.30,309.00 L68.55,309.00 L68.80,309.00 L69.05,309.00 L69.30,309.00 L69.55,309.00 L69.80,309.00 L70.05,309.00 L70.30,309.00 L70.55,309.00 L70.80,309.00 L71.05,309.00 L71.30,309.00 L71.55,309.00 L71.80,309.00 L72.05,309.00 L72.30,309.00 L72.55,309.00 L72.80,309.00 L73.05,309.00 L73.30,309.00 L73.55,309.00 L73.80,309.00 L74.05,309.00 L74.30,309.00 L74.55,309.00 L74.80,309.00 L75.05,309.00 L75.30,309.00 L75.55,309.00 L75.80,309.00 L76.05,309.00 L76.30,309.00 L76.55,309.00 L76.80,309.00 L77.05,309.00 L77.30,309.00 L77.55,309.00 L77.80,309.00 L78.05,309.00 L78.30,309.00 L78.55,309.00 L78.80,309.00 L79.05,309.00 L79.30,309.00 L79.55,309.00 L79.80,309.00 L80.05,309.00 L80.30,309.00 L80.55,309.00 L80.80,309.00 L81.05,309.00 L81.30,309.00 L81.55,309.00 L81.80,308.99 L82.05,308.97 L82.30,308.92 L82.55,308.83 L82.80,308.67 L83.05,308.47 L83.30,308.29 L83.55,308.20 L83.80,308.24 L84.05,308.40 L84.30,308.59 L84.55,308.77 L84.80,308.88 L85.05,308.94 L85.30,308.95 L85.55,308.93 L85.80,308.88 L86.05,308.81 L86.30,308.69 L86.55,308.55 L86.80,308.37 L87.05,308.17 L87.30,307.98 L87.55,307.83 L87.80,307.73 L88.05,307.70 L88.30,307.76 L88.55,307.88 L88.80,308.06 L89.05,308.25 L89.30,308.44 L89.55,308.61 L89.80,308.74 L90.05,308.83 L90.30,308.88 L90.55,308.89 L90.80,308.88 L91.05,308.82 L91.30,308.74 L91.55,308.61 L91.80,308.46 L92.05,308.30 L92.30,308.14 L92.55,308.01 L92.80,307.92 L93.05,307.90 L93.30,307.95 L93.55,308.05 L93.80,308.20 L94.05,308.37 L94.30,308.53 L94.55,308.67 L94.80,308.78 L95.05,308.87 L95.30,308.92 L95.55,308.96 L95.80,308.98 L96.05,308.99 L96.30,308.99 L96.55,309.00 L96.80,309.00 L97.05,309.00 L97.30,309.00 L97.55,309.00 L97.80,308.99 L98.05,308.99 L98.30,308.99 L98.55,308.99 L98.80,308.98 L99.05,308.98 L99.30,308.97 L99.55,308.96 L99.80,308.95 L100.05,308.94 L100.30,308.92 L100.55,308.90 L100.80,308.87 L101.05,308.84 L101.30,308.80 L101.55,308.74 L101.80,308.67 L102.05,308.57 L102.30,308.43 L102.55,308.23 L102.80,307.93 L103.05,307.52 L103.30,306.95 L103.55,306.21 L103.80,305.32 L104.05,304.29 L104.30,303.21 L104.55,302.17 L104.80,301.28 L105.05,300.63 L105.30,300.27 L105.55,300.20 L105.80,300.36 L106.05,300.66 L106.30,300.99 L106.55,301.25 L106.80,301.39 L107.05,301.35 L107.30,301.14 L107.55,300.78 L107.80,300.30 L108.05,299.74 L108.30,299.12 L108.55,298.47 L108.80,297.82 L109.05,297.17 L109.30,296.55 L109.55,295.95 L109.80,295.40 L110.05,294.88 L110.30,294.43 L110.55,294.03 L110.80,293.70 L111.05,293.43 L111.30,293.24 L111.55,293.12 L111.80,293.07 L112.05,293.09 L112.30,293.18 L112.55,293.32 L112.80,293.53 L113.05,293.77 L113.30,294.05 L113.55,294.36 L113.80,294.69 L114.05,295.03 L114.30,295.37 L114.55,295.72 L114.80,296.07 L115.05,296.42 L115.30,296.79 L115.55,297.18 L115.80,297.59 L116.05,298.04 L116.30,298.54 L116.55,299.08 L116.80,299.67 L117.05,300.31 L117.30,300.98 L117.55,301.67 L117.80,302.37 L118.05,303.06 L118.30,303.71 L118.55,304.32 L118.80,304.86 L119.05,305.31 L119.30,305.67 L119.55,305.92 L119.80,306.07 L120.05,306.10 L120.30,306.02 L120.55,305.85 L120.80,305.59 L121.05,305.26 L121.30,304.88 L121.55,304.49 L121.80,304.09 L122.05,303.74 L122.30,303.43 L122.55,303.21 L122.80,303.09 L123.05,303.06 L123.30,303.14 L123.55,303.31 L123.80,303.56 L124.05,303.87 L124.30,304.21 L124.55,304.56 L124.80,304.89 L125.05,305.17 L125.30,305.39 L125.55,305.54 L125.80,305.60 L126.05,305.59 L126.30,305.49 L126.55,305.34 L126.80,305.14 L127.05,304.92 L127.30,304.68 L127.55,304.47 L127.80,304.28 L128.05,304.15 L128.30,304.08 L128.55,304.08 L128.80,304.16 L129.05,304.30 L129.30,304.52 L129.55,304.80 L129.80,305.12 L130.05,305.47 L130.30,305.85 L130.55,306.23 L130.80,306.61 L131.05,306.97 L131.30,307.30 L131.55,307.60 L131.80,307.87 L132.05,308.10 L132.30,308.30 L132.55,308.46 L132.80,308.58 L133.05,308.68 L133.30,308.74 L133.55,308.77 L133.80,308.75 L134.05,308.66 L134.30,308.47 L134.55,308.11 L134.80,307.52 L135.05,306.59 L135.30,305.19 L135.55,303.19 L135.80,300.46 L136.05,296.92 L136.30,292.55 L136.55,287.43 L136.80,281.78 L137.05,275.94 L137.30,270.34 L137.55,265.49 L137.80,261.86 L138.05,259.84 L138.30,259.56 L138.55,261.08 L138.80,264.25 L139.05,268.70 L139.30,273.98 L139.55,279.59 L139.80,285.06 L140.05,290.05 L140.30,294.31 L140.55,297.75 L140.80,300.34 L141.05,302.16 L141.30,303.31 L141.55,303.92 L141.80,304.11 L142.05,303.98 L142.30,303.54 L142.55,302.75 L142.80,301.64 L143.05,300.26 L143.30,298.62 L143.55,296.63 L143.80,294.16 L144.05,291.07 L144.30,287.22 L144.55,282.48 L144.80,274.66 L145.05,259.47 L145.30,244.62 L145.55,230.33 L145.80,218.81 L146.05,209.19 L146.30,198.75 L146.55,191.68 L146.80,186.64 L147.05,184.08 L147.30,185.23 L147.55,189.46 L147.80,195.30 L148.05,205.30 L148.30,214.88 L148.55,225.30 L148.80,238.78 L149.05,253.18 L149.30,269.07 L149.55,280.30 L149.80,285.44 L150.05,289.63 L150.30,293.00 L150.55,295.70 L150.80,297.86 L151.05,299.62 L151.30,301.11 L151.55,302.35 L151.80,303.32 L152.05,304.01 L152.30,304.47 L152.55,304.81 L152.80,305.04 L153.05,305.16 L153.30,305.18 L153.55,305.12 L153.80,305.00 L154.05,304.84 L154.30,304.67 L154.55,304.50 L154.80,304.37 L155.05,304.30 L155.30,304.29 L155.55,304.38 L155.80,304.54 L156.05,304.78 L156.30,305.00 L156.55,305.26 L156.80,305.54 L157.05,305.81 L157.30,306.02 L157.55,306.16 L157.80,306.19 L158.05,306.12 L158.30,305.95 L158.55,305.69 L158.80,305.37 L159.05,305.04 L159.30,304.74 L159.55,304.50 L159.80,304.36 L160.05,304.35 L160.30,304.47 L160.55,304.72 L160.80,305.08 L161.05,305.51 L161.30,305.98 L161.55,306.46 L161.80,306.92 L162.05,307.31 L162.30,307.62 L162.55,307.82 L162.80,307.92 L163.05,307.89 L163.30,307.73 L163.55,307.43 L163.80,306.98 L164.05,306.40 L164.30,305.68 L164.55,304.85 L164.80,303.94 L165.05,302.98 L165.30,302.03 L165.55,301.14 L165.80,300.39 L166.05,299.82 L166.30,299.48 L166.55,299.40 L166.80,299.59 L167.05,300.02 L167.30,300.67 L167.55,301.48 L167.80,302.40 L168.05,303.36 L168.30,304.31 L168.55,305.20 L168.80,305.99 L169.05,306.67 L169.30,307.22 L169.55,307.64 L169.80,307.93 L170.05,308.11 L170.30,308.18 L170.55,308.15 L170.80,308.01 L171.05,307.78 L171.30,307.43 L171.55,306.96 L171.80,306.35 L172.05,305.59 L172.30,304.65 L172.55,303.50 L172.80,302.14 L173.05,300.54 L173.30,298.69 L173.55,296.57 L173.80,294.20 L174.05,291.58 L174.30,288.72 L174.55,285.67 L174.80,282.46 L175.05,279.15 L175.30,275.80 L175.55,272.48 L175.80,269.26 L176.05,266.21 L176.30,263.43 L176.55,260.96 L176.80,258.87 L177.05,257.20 L177.30,255.99 L177.55,255.25 L177.80,254.95 L178.05,255.04 L178.30,255.57 L178.55,256.57 L178.80,258.02 L179.05,259.89 L179.30,262.14 L179.55,264.72 L179.80,267.55 L180.05,270.58 L180.30,273.72 L180.55,276.91 L180.80,280.08 L181.05,283.17 L181.30,286.13 L181.55,288.90 L181.80,291.46 L182.05,293.77 L182.30,295.80 L182.55,297.53 L182.80,298.94 L183.05,300.02 L183.30,300.75 L183.55,301.14 L183.80,301.17 L184.05,300.84 L184.30,300.16 L184.55,299.15 L184.80,297.84 L185.05,296.28 L185.30,294.50 L185.55,292.60 L185.80,290.65 L186.05,288.74 L186.30,286.97 L186.55,285.43 L186.80,284.21 L187.05,283.38 L187.30,282.98 L187.55,283.05 L187.80,283.58 L188.05,284.54 L188.30,285.89 L188.55,287.56 L188.80,289.47 L189.05,291.53 L189.30,293.65 L189.55,295.76 L189.80,297.79 L190.05,299.68 L190.30,301.38 L190.55,302.89 L190.80,304.17 L191.05,305.24 L191.30,306.11 L191.55,306.78 L191.80,307.27 L192.05,307.59 L192.30,307.76 L192.55,307.78 L192.80,307.67 L193.05,307.43 L193.30,307.09 L193.55,306.64 L193.80,306.12 L194.05,305.57 L194.30,305.01 L194.55,304.49 L194.80,304.07 L195.05,303.76 L195.30,303.61 L195.55,303.63 L195.80,303.82 L196.05,304.15 L196.30,304.61 L196.55,305.15 L196.80,305.72 L197.05,306.30 L197.30,306.85 L197.55,307.34 L197.80,307.76 L198.05,308.10 L198.30,308.37 L198.55,308.57 L198.80,308.72 L199.05,308.82 L199.30,308.89 L199.55,308.93 L199.80,308.96 L200.05,308.98 L200.30,308.99 L200.55,308.99 L200.80,309.00 L201.05,309.00 L201.30,309.00 L201.55,309.00 L201.80,309.00 L202.05,309.00 L202.30,309.00 L202.55,309.00 L202.80,309.00 L203.05,309.00 L203.30,309.00 L203.55,309.00 L203.80,309.00 L204.05,309.00 L204.30,309.00 L204.55,309.00 L204.80,308.99 L205.05,308.98 L205.30,308.97 L205.55,308.95 L205.80,308.92 L206.05,308.87 L206.30,308.79 L206.55,308.67 L206.80,308.48 L207.05,308.21 L207.30,307.82 L207.55,307.26 L207.80,306.50 L208.05,305.47 L208.30,304.11 L208.55,302.35 L208.80,300.14 L209.05,297.41 L209.30,294.13 L209.55,290.30 L209.80,285.92 L210.05,281.07 L210.30,275.84 L210.55,270.38 L210.80,264.88 L211.05,259.56 L211.30,254.66 L211.55,250.41 L211.80,247.04 L212.05,244.73 L212.30,243.60 L212.55,243.73 L212.80,245.10 L213.05,247.63 L213.30,251.20 L213.55,255.59 L213.80,260.60 L214.05,265.97 L214.30,271.48 L214.55,276.90 L214.80,282.07 L215.05,286.84 L215.30,291.11 L215.55,294.83 L215.80,298.00 L216.05,300.62 L216.30,302.74 L216.55,304.41 L216.80,305.70 L217.05,306.67 L217.30,307.39 L217.55,307.91 L217.80,308.27 L218.05,308.52 L218.30,308.70 L218.55,308.81 L218.80,308.88 L219.05,308.93 L219.30,308.96 L219.55,308.98 L219.80,308.99 L220.05,308.99 L220.30,309.00 L220.55,309.00 L220.80,309.00 L221.05,309.00 L221.30,309.00 L221.55,309.00 L221.80,309.00 L222.05,309.00 L222.30,309.00 L222.55,309.00 L222.80,309.00 L223.05,309.00 L223.30,309.00 L223.55,309.00 L223.80,309.00 L224.05,309.00 L224.30,309.00 L224.55,309.00 L224.80,309.00 L225.05,309.00 L225.30,309.00 L225.55,309.00 L225.80,309.00 L226.05,309.00 L226.30,309.00 L226.55,309.00 L226.80,309.00 L227.05,309.00 L227.30,309.00 L227.55,309.00 L227.80,309.00 L228.05,309.00 L228.30,309.00 L228.55,309.00 L228.80,309.00 L229.05,309.00 L229.30,309.00 L229.55,309.00 L229.80,309.00 L230.05,309.00 L230.30,309.00 L230.55,309.00 L230.80,309.00 L231.05,309.00 L231.30,309.00 L231.55,309.00 L231.80,309.00 L232.05,309.00 L232.30,309.00 L232.55,309.00 L232.80,309.00 L233.05,308.99 L233.30,308.99 L233.55,308.98 L233.80,308.97 L234.05,308.96 L234.30,308.93 L234.55,308.89 L234.80,308.83 L235.05,308.73 L235.30,308.58 L235.55,308.37 L235.80,308.06 L236.05,307.61 L236.30,306.97 L236.55,306.08 L236.80,304.86 L237.05,303.22 L237.30,301.03 L237.55,298.17 L237.80,294.47 L238.05,289.79 L238.30,283.93 L238.55,276.75 L238.80,268.07 L239.05,257.76 L239.30,245.74 L239.55,231.97 L239.80,216.48 L240.05,199.39 L240.30,180.93 L240.55,161.41 L240.80,150.00 L241.05,150.00 L241.30,150.00 L241.55,150.00 L241.80,150.00 L242.05,150.00 L242.30,150.00 L242.55,150.00 L242.80,150.00 L243.05,150.00 L243.30,150.00 L243.55,150.00 L243.80,150.00 L244.05,150.00 L244.30,150.00 L244.55,150.00 L244.80,150.00 L245.05,150.00 L245.30,150.00 L245.55,169.32 L245.80,188.46 L246.05,206.41 L246.30,222.87 L246.55,237.69 L246.80,250.76 L247.05,262.09 L247.30,271.73 L247.55,279.79 L247.80,286.43 L248.05,291.79 L248.30,296.06 L248.55,299.40 L248.80,301.98 L249.05,303.94 L249.30,305.40 L249.55,306.47 L249.80,307.25 L250.05,307.80 L250.30,308.20 L250.55,308.47 L250.80,308.65 L251.05,308.77 L251.30,308.86 L251.55,308.91 L251.80,308.94 L252.05,308.97 L252.30,308.98 L252.55,308.99 L252.80,308.99 L253.05,308.99 L253.30,309.00 L253.55,309.00 L253.80,308.99 L254.05,308.99 L254.30,308.99 L254.55,308.98 L254.80,308.98 L255.05,308.97 L255.30,308.95 L255.55,308.93 L255.80,308.91 L256.05,308.87 L256.30,308.82 L256.55,308.75 L256.80,308.66 L257.05,308.55 L257.30,308.40 L257.55,308.21 L257.80,307.97 L258.05,307.67 L258.30,307.30 L258.55,306.86 L258.80,306.31 L259.05,305.67 L259.30,304.91 L259.55,304.03 L259.80,303.02 L260.05,301.88 L260.30,300.60 L260.55,299.20 L260.80,297.67 L261.05,296.03 L261.30,294.30 L261.55,292.51 L261.80,290.68 L262.05,288.86 L262.30,287.07 L262.55,285.36 L262.80,283.77 L263.05,282.35 L263.30,281.12 L263.55,280.13 L263.80,279.40 L264.05,278.95 L264.30,278.80 L264.55,278.95 L264.80,279.40 L265.05,280.13 L265.30,281.12 L265.55,282.35 L265.80,283.77 L266.05,285.36 L266.30,287.07 L266.55,288.86 L266.80,290.68 L267.05,292.51 L267.30,294.30 L267.55,296.03 L267.80,297.67 L268.05,299.20 L268.30,300.60 L268.55,301.88 L268.80,303.02 L269.05,304.03 L269.30,304.91 L269.55,305.67 L269.80,306.31 L270.05,306.86 L270.30,307.30 L270.55,307.67 L270.80,307.97 L271.05,308.21 L271.30,308.40 L271.55,308.55 L271.80,308.66 L272.05,308.75 L272.30,308.82 L272.55,308.87 L272.80,308.91 L273.05,308.93 L273.30,308.95 L273.55,308.97 L273.80,308.98 L274.05,308.98 L274.30,308.99 L274.55,308.99 L274.80,309.00 L275.05,309.00 L275.30,309.00 L275.55,309.00 L275.80,309.00 L276.05,309.00 L276.30,309.00 L276.55,309.00 L276.80,309.00 L277.05,308.99 L277.30,308.99 L277.55,308.98 L277.80,308.97 L278.05,308.96 L278.30,308.94 L278.55,308.91 L278.80,308.87 L279.05,308.82 L279.30,308.75 L279.55,308.66 L279.80,308.55 L280.05,308.41 L280.30,308.25 L280.55,308.07 L280.80,307.86 L281.05,307.63 L281.30,307.38 L281.55,307.13 L281.80,306.88 L282.05,306.64 L282.30,306.43 L282.55,306.25 L282.80,306.11 L283.05,306.03 L283.30,306.00 L283.55,306.03 L283.80,306.11 L284.05,306.25 L284.30,306.43 L284.55,306.64 L284.80,306.88 L285.05,307.13 L285.30,307.38 L285.55,307.63 L285.80,307.86 L286.05,308.07 L286.30,308.25 L286.55,308.41 L286.80,308.55 L287.05,308.66 L287.30,308.75 L287.55,308.82 L287.80,308.87 L288.05,308.91 L288.30,308.94 L288.55,308.96 L288.80,308.97 L289.05,308.98 L289.30,308.99 L289.55,308.99 L289.80,309.00 L290.05,309.00 L290.30,309.00 L290.55,309.00 L290.80,309.00 L291.05,309.00 L291.30,309.00 L291.55,309.00 L291.80,309.00 L292.05,309.00 L292.30,309.00 L292.55,309.00 L292.80,309.00 L293.05,309.00 L293.30,309.00 L293.55,309.00 L293.80,309.00 L294.05,309.00 L294.30,309.00 L294.55,309.00 L294.80,309.00 L295.05,309.00 L295.30,309.00 L295.55,309.00 L295.80,308.98 L296.05,308.88 L296.30,308.73 L296.55,308.54 L296.80,308.30 L297.05,308.05 L297.30,307.76 L297.55,307.36 L297.80,306.86 L298.05,306.23 L298.30,305.48 L298.55,304.60 L298.80,303.52 L299.05,301.83 L299.30,299.46 L299.55,296.52 L299.80,293.07 L300.05,289.15 L300.30,283.60 L300.55,276.31 L300.80,267.87 L301.05,258.90 L301.30,250.00 L301.55,241.56 L301.80,232.56 L302.05,221.57 L302.30,205.27 L302.55,185.00 L302.80,166.22 L303.05,150.00 L303.30,150.00 L303.55,150.00 L303.80,150.00 L304.05,150.00 L304.30,150.00 L304.55,150.00 L304.80,150.00 L305.05,150.00 L305.30,150.00 L305.55,150.00 L305.80,150.00 L306.05,150.00 L306.30,150.00 L306.55,150.00 L306.80,150.00 L307.05,150.00 L307.30,150.00 L307.55,150.00 L307.80,150.00 L308.05,150.00 L308.30,150.00 L308.55,150.00 L308.80,150.00 L309.05,150.00 L309.30,150.00 L309.55,150.00 L309.80,150.00 L310.05,150.00 L310.30,150.00 L310.55,150.00 L310.80,150.00 L311.05,150.00 L311.30,150.00 L311.55,150.00 L311.80,150.00 L312.05,150.00 L312.30,158.71 L312.55,177.49 L312.80,197.06 L313.05,216.12 L313.30,228.49 L313.55,238.11 L313.80,246.60 L314.05,255.29 L314.30,264.31 L314.55,273.03 L314.80,280.86 L315.05,287.18 L315.30,291.57 L315.55,295.19 L315.80,298.35 L316.05,300.96 L316.30,302.93 L316.55,304.20 L316.80,305.14 L317.05,305.94 L317.30,306.62 L317.55,307.17 L317.80,307.61 L318.05,307.94 L318.30,308.20 L318.55,308.44 L318.80,308.65 L319.05,308.82 L319.30,308.94 L319.55,308.99 L319.80,308.99 L320.05,308.98 L320.30,308.98 L320.55,308.97 L320.80,308.96 L321.05,308.95 L321.30,308.94 L321.55,308.93 L321.80,308.92 L322.05,308.90 L322.30,308.88 L322.55,308.86 L322.80,308.84 L323.05,308.81 L323.30,308.78 L323.55,308.74 L323.80,308.71 L324.05,308.67 L324.30,308.62 L324.55,308.58 L324.80,308.53 L325.05,308.48 L325.30,308.43 L325.55,308.38 L325.80,308.33 L326.05,308.28 L326.30,308.24 L326.55,308.19 L326.80,308.15 L327.05,308.11 L327.30,308.08 L327.55,308.05 L327.80,308.03 L328.05,308.01 L328.30,308.00 L328.55,308.00 L328.80,308.00 L329.05,308.02 L329.30,308.03 L329.55,308.06 L329.80,308.09 L330.05,308.12 L330.30,308.16 L330.55,308.21 L330.80,308.25 L331.05,308.30 L331.30,308.35 L331.55,308.40 L331.80,308.45 L332.05,308.50 L332.30,308.55 L332.55,308.60 L332.80,308.64 L333.05,308.68 L333.30,308.72 L333.55,308.76 L333.80,308.79 L334.05,308.82 L334.30,308.85 L334.55,308.87 L334.80,308.89 L335.05,308.91 L335.30,308.92 L335.55,308.94 L335.80,308.95 L336.05,308.96 L336.30,308.97 L336.55,308.97 L336.80,308.98 L337.05,308.98 L337.30,308.99 L337.55,308.99 L337.80,308.99 L338.05,308.99 L338.30,309.00 L338.55,309.00 L338.80,309.00 L339.05,309.00 L339.30,309.00 L339.55,309.00 L339.80,309.00 L340.05,309.00 L340.30,309.00 L340.55,309.00 L340.80,309.00 L341.05,309.00 L341.30,309.00 L341.55,309.00 L341.80,309.00 L342.05,309.00 L342.30,309.00 L342.55,309.00 L342.80,309.00 L343.05,309.00 L343.30,309.00 L343.55,309.00 L343.80,309.00 L344.05,309.00 L344.30,309.00 L344.55,309.00 L344.80,309.00 L345.05,309.00 L345.30,309.00 L345.55,309.00 L345.80,309.00 L346.05,309.00 L346.30,309.00 L346.55,309.00 L346.80,309.00 L347.05,309.00 L347.30,309.00 L347.55,309.00 L347.80,309.00 L348.05,309.00 L348.30,309.00 L348.55,309.00 L348.80,309.00 L349.05,309.00 L349.30,309.00 L349.55,309.00 L349.80,309.00 L350.05,309.00 L350.30,309.00 L350.55,309.00 L350.80,309.00 L351.05,309.00 L351.30,309.00 L351.55,309.00 L351.80,309.00 L352.05,309.00 L352.30,309.00 L352.55,309.00 L352.80,309.00 L353.05,309.00 L353.30,309.00 L353.55,309.00 L353.80,309.00 L354.05,309.00 L354.30,309.00 L354.55,309.00 L354.80,309.00 L355.05,309.00 L355.30,309.00 L355.55,309.00 L355.80,309.00 L356.05,309.00 L356.30,309.00 L356.55,309.00 L356.80,309.00 L357.05,309.00 L357.30,309.00 L357.55,309.00 L357.80,309.00 L358.05,309.00 L358.30,309.00 L358.55,309.00 L358.80,309.00 L359.05,309.00 L359.30,309.00 L359.55,309.00 L359.80,309.00 L360.05,309.00 L360.30,309.00 L360.55,309.00 L360.80,309.00 L361.05,309.00 L361.30,309.00 L361.55,309.00 L361.80,309.00 L362.05,309.00 L362.30,309.00 L362.55,309.00 L362.80,309.00 L363.05,309.00 L363.30,309.00 L363.55,309.00 L363.80,309.00 L364.05,309.00 L364.30,309.00 L364.55,309.00 L364.80,309.00 L365.05,309.00 L365.30,309.00 L365.55,309.00 L365.80,309.00 L366.05,309.00 L366.30,309.00 L366.55,309.00 L366.80,309.00 L367.05,309.00 L367.30,309.00 L367.55,309.00 L367.80,309.00 L368.05,309.00 L368.30,309.00 L368.55,309.00 L368.80,309.00 L369.05,309.00 L369.30,309.00 L369.55,309.00 L369.80,309.00 L370.05,309.00 L370.30,309.00 L370.55,309.00 L370.80,309.00 L371.05,309.00 L371.30,309.00 L371.55,309.00 L371.80,309.00 L372.05,309.00 L372.30,309.00 L372.55,309.00 L372.80,309.00 L373.05,309.00 L373.30,309.00 L373.55,309.00 L373.80,309.00 L374.05,309.00 L374.30,309.00 L374.55,309.00 L374.80,309.00 L375.05,309.00 L375.30,309.00 L375.55,309.00 L375.80,309.00 L376.05,309.00 L376.30,309.00 L376.55,309.00 L376.80,309.00 L377.05,309.00 L377.30,309.00 L377.55,309.00 L377.80,309.00 L378.05,309.00 L378.30,309.00 L378.55,309.00 L378.80,309.00 L379.05,309.00 L379.30,309.00 L379.55,309.00 L379.80,309.00 L380.05,309.00 L380.30,309.00 L380.55,309.00 L380.80,309.00 L381.05,309.00 L381.30,309.00 L381.55,309.00 L381.80,309.00 L382.05,309.00 L382.30,309.00 L382.55,309.00 L382.80,309.00 L383.05,309.00 L383.30,309.00 L383.55,309.00 L383.80,309.00 L384.05,309.00 L384.30,309.00 L384.55,309.00 L384.80,309.00 L385.05,309.00 L385.30,309.00 L385.55,309.00 L385.80,309.00 L386.05,309.00 L386.30,309.00 L386.55,309.00 L386.80,309.00 L387.05,309.00 L387.30,309.00 L387.55,309.00 L387.80,309.00 L388.05,309.00 L388.30,309.00 L388.55,309.00 L388.80,309.00 L389.05,309.00 L389.30,309.00 L389.55,309.00 L389.80,309.00 L390.05,309.00 L390.30,309.00 L390.55,309.00 L390.80,309.00 L391.05,309.00 L391.30,309.00 L391.55,309.00 L391.80,309.00 L392.05,309.00 L392.30,309.00 L392.55,309.00 L392.80,309.00 L393.05,309.00 L393.30,309.00 L393.55,309.00 L393.80,309.00 L394.05,309.00 L394.30,309.00 L394.55,309.00 L394.80,309.00 L395.05,309.00 L395.30,309.00 L395.55,309.00 L395.80,309.00 L396.05,309.00 L396.30,309.00 L396.55,309.00 L396.80,309.00 L397.05,309.00 L397.30,309.00 L397.55,309.00 L397.80,309.00 L398.05,309.00 L398.30,309.00 L398.55,309.00 L398.80,309.00 L399.05,309.00 L399.30,309.00 L399.55,309.00 L399.80,309.00 L400.05,309.00 L400.30,309.00 L400.55,309.00 L400.80,309.00 L401.05,309.00 L401.30,309.00 L401.55,309.00 L401.80,309.00 L402.05,309.00 L402.30,309.00 L402.55,309.00 L402.80,309.00 L403.05,309.00 L403.30,309.00 L403.55,309.00 L403.80,309.00 L404.05,309.00 L404.30,309.00 L404.55,309.00 L404.80,309.00 " fill="none" stroke="#1a1a1a" stroke-width="1" clip-path="url(#cb)"/>
<path d="M40.8,309.0H405" stroke="#1a1a1a" stroke-width="0.8" fill="none"/>
<path d="M106.7,301.39V309.3 M112.4,293.18V309.3 M119.4,305.67V309.3 M125.6,305.54V309.3 M130.2,305.85V309.3 M141.7,304.11V309.3 M153.6,305.12V309.3 M157.8,306.19V309.3 M162.8,307.92V309.3 M171.5,306.96V309.3 M183.4,300.75V309.3 M192,307.59V309.3 M84.5,308.5v2 M100,308.5v2 M200.6,308.5v2 M206,308.5v2 M220.5,308.5v2 M226.6,308.5v2 M235.9,308.5v2 M253.4,308.5v2 M274.8,308.5v2 M278.5,308.5v2 M288,308.5v2 M296.5,308.5v2 " stroke="#1a1a1a" stroke-width="0.6" fill="none"/>
<text class="ab" font-size="4.55" transform="translate(89.62,306.5) rotate(-90) scale(1.0,1)">2.713</text>
<text class="ab" font-size="4.55" transform="translate(94.72,306.5) rotate(-90) scale(1.0,1)">3.003</text>
<text class="ab" font-size="4.55" transform="translate(107.92,300) rotate(-90) scale(1.0,1)">3.731</text>
<text class="ab" font-size="4.55" transform="translate(112.32,291.9) rotate(-90) scale(1.0,1)">4.020</text>
<text class="ab" font-size="4.55" transform="translate(115.92,292.6) rotate(-90) scale(1.0,1)">4.219</text>
<text class="ab" font-size="4.55" transform="translate(124.62,301.4) rotate(-90) scale(1.0,1)">4.736</text>
<text class="ab" font-size="4.55" transform="translate(129.42,302) rotate(-90) scale(1.0,1)">5.007</text>
<text class="ab" font-size="4.55" transform="translate(139.82,258.4) rotate(-90) scale(1.0,1)">5.554</text>
<text class="ab" font-size="4.55" transform="translate(148.72,196.2) rotate(-90) scale(1.0,1)">6.000</text>
<text class="ab" font-size="4.55" transform="translate(157.12,301.9) rotate(-90) scale(1.0,1)">6.650</text>
<text class="ab" font-size="4.55" transform="translate(161.22,302.3) rotate(-90) scale(1.0,1)">6.931</text>
<text class="ab" font-size="4.55" transform="translate(167.82,298) rotate(-90) scale(1.0,1)">7.195</text>
<text class="ab" font-size="4.55" transform="translate(178.82,254) rotate(-90) scale(1.0,1)">7.828</text>
<text class="ab" font-size="4.55" transform="translate(188.92,281.2) rotate(-90) scale(1.0,1)">8.302</text>
<text class="ab" font-size="4.55" transform="translate(197.02,301.9) rotate(-90) scale(1.0,1)">8.832</text>
<text class="ab" font-size="4.55" transform="translate(214.12,241.5) rotate(-90) scale(1.0,1)">9.817</text>
<text class="ab" font-size="4.55" transform="translate(244.22,198.8) rotate(-90) scale(1.0,1)">11.555</text>
<text class="ab" font-size="4.55" transform="translate(265.92,276.7) rotate(-90) scale(1.0,1)">12.773</text>
<text class="ab" font-size="4.55" transform="translate(285.02,303.7) rotate(-90) scale(1.0,1)">13.850</text>
<text class="ab" font-size="4.55" transform="translate(309.82,199) rotate(-90) scale(1.0,1)">15.267</text>
<text class="sb" transform="translate(77.8,363.8) scale(1,1.12)" font-size="14">C</text>
<line x1="120" y1="372" x2="120" y2="523.5" stroke="#444" stroke-width="1.15"/>
<line x1="119.5" y1="523.5" x2="303.5" y2="523.5" stroke="#444" stroke-width="1.15"/>
<text class="sb" font-size="7.4" text-anchor="end" x="113.8" y="526.00">0</text>
<text class="sb" font-size="7.4" text-anchor="end" x="113.8" y="495.70">10</text>
<text class="sb" font-size="7.4" text-anchor="end" x="113.8" y="465.40">20</text>
<text class="sb" font-size="7.4" text-anchor="end" x="113.8" y="435.10">30</text>
<text class="sb" font-size="7.4" text-anchor="end" x="113.8" y="404.80">40</text>
<text class="sb" font-size="7.4" text-anchor="end" x="113.8" y="374.50">50</text>
<path d="M117.4,523.50H120 M117.4,493.20H120 M117.4,462.90H120 M117.4,432.60H120 M117.4,402.30H120 M117.4,372.00H120 M120,523.5v2.6 M181,523.5v2.6 M242,523.5v2.6 M303,523.5v2.6 " stroke="#444" stroke-width="1" fill="none"/>
<rect x="130.00" y="405.63" width="13.65" height="117.87" fill="#000" stroke="#222" stroke-width="0.5"/>
<path d="M136.82,405.33V405.63M135.22,405.33h3.2" stroke="#111" stroke-width="0.5" fill="none"/>
<rect x="143.65" y="405.63" width="13.65" height="117.87" fill="#808080" stroke="#222" stroke-width="0.5"/>
<path d="M150.47,405.33V405.63M148.88,405.33h3.2" stroke="#111" stroke-width="0.5" fill="none"/>
<rect x="157.30" y="405.63" width="13.65" height="117.87" fill="#b2b2b2" stroke="#222" stroke-width="0.5"/>
<path d="M164.12,405.33V405.63M162.53,405.33h3.2" stroke="#111" stroke-width="0.5" fill="none"/>
<rect x="191.20" y="406.54" width="13.65" height="116.96" fill="#000" stroke="#222" stroke-width="0.5"/>
<path d="M198.02,406.09V406.54M196.42,406.09h3.2" stroke="#111" stroke-width="0.5" fill="none"/>
<rect x="204.85" y="407.15" width="13.65" height="116.35" fill="#808080" stroke="#222" stroke-width="0.5"/>
<path d="M211.67,406.24V407.15M210.07,406.24h3.2" stroke="#111" stroke-width="0.5" fill="none"/>
<rect x="218.50" y="412.60" width="13.65" height="110.90" fill="#b2b2b2" stroke="#222" stroke-width="0.5"/>
<path d="M225.32,412.15V412.60M223.72,412.15h3.2" stroke="#111" stroke-width="0.5" fill="none"/>
<rect x="252.20" y="408.36" width="13.65" height="115.14" fill="#000" stroke="#222" stroke-width="0.5"/>
<path d="M259.02,408.06V408.36M257.42,408.06h3.2" stroke="#111" stroke-width="0.5" fill="none"/>
<rect x="265.85" y="408.97" width="13.65" height="114.53" fill="#808080" stroke="#222" stroke-width="0.5"/>
<path d="M272.67,408.06V408.97M271.07,408.06h3.2" stroke="#111" stroke-width="0.5" fill="none"/>
<rect x="279.50" y="412.60" width="13.65" height="110.90" fill="#b2b2b2" stroke="#222" stroke-width="0.5"/>
<path d="M286.32,412.15V412.60M284.72,412.15h3.2" stroke="#111" stroke-width="0.5" fill="none"/>
<text class="sb" font-size="7.4" text-anchor="middle" x="150.5" y="534.6">0</text>
<text class="sb" font-size="7.4" text-anchor="middle" x="211.7" y="534.6">4</text>
<text class="sb" font-size="7.4" text-anchor="middle" x="272.5" y="534.6">12</text>
<text class="sb" font-size="8.9" text-anchor="middle" x="212.7" y="545.7">Time (weeks)</text>
<text class="sb" font-size="8.8" text-anchor="middle" transform="translate(89.3,446.5) rotate(-90)">Tanshinone IIA</text>
<text class="sb" font-size="8.9" text-anchor="middle" transform="translate(99,446.5) rotate(-90)">Mean content (%)</text>
<rect x="289.6" y="372.60" width="4.4" height="4.4" fill="#000" stroke="#222" stroke-width="0.5"/>
<text class="sr" font-size="8.9" x="295.8" y="377.60">Long term</text>
<rect x="289.6" y="383.55" width="4.4" height="4.4" fill="#808080" stroke="#222" stroke-width="0.5"/>
<text class="sr" font-size="8.9" x="295.8" y="388.55">Intermediate</text>
<rect x="289.6" y="394.50" width="4.4" height="4.4" fill="#b2b2b2" stroke="#222" stroke-width="0.5"/>
<text class="sr" font-size="8.9" x="295.8" y="399.50">Accelerated</text>
</svg></body></html>
